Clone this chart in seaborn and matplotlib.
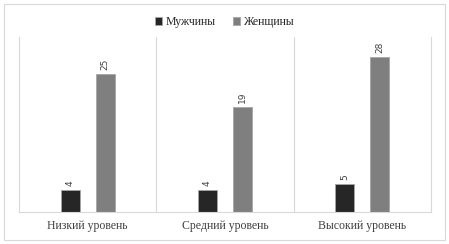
import matplotlib
matplotlib.use("Agg")
import matplotlib.pyplot as plt
import seaborn as sns
import pandas as pd
from matplotlib.patches import Rectangle

categories = ["Низкий уровень", "Средний уровень", "Высокий уровень"]
series_names = ["Мужчины", "Женщины"]
men = [4, 4, 5]
women = [25, 19, 28]

df = pd.DataFrame({
    "cat": categories * 2,
    "sex": [series_names[0]] * 3 + [series_names[1]] * 3,
    "val": men + women,
})

sns.set_style("white")
plt.rcParams["font.family"] = ["Liberation Serif", "DejaVu Serif"]

fig = plt.figure(figsize=(4.49, 2.44), dpi=100)
ax = fig.add_axes([19/449, 1-212/244, (431-19)/449, (212-37)/244])

sns.barplot(data=df, x="cat", y="val", hue="sex", order=categories,
            hue_order=series_names, palette=["#262626", "#7f7f7f"],
            width=0.51, gap=0.45, ax=ax, edgecolor="#a6a6a6", linewidth=0.6,
            errorbar=None, legend=True)

for cont in ax.containers:
    ax.bar_label(cont, rotation=90, padding=3, fontsize=6.5,
                 color="#404040", family="DejaVu Sans")

ax.set_xlim(-0.5, 2.5)
ax.set_ylim(0, 31.7)
ax.set_yticks([])
ax.set_xlabel("")
ax.set_ylabel("")
for b in [0.5, 1.5]:
    ax.axvline(b, color="#d9d9d9", lw=0.8)
for s in ["left", "right"]:
    ax.spines[s].set_color("#d9d9d9")
    ax.spines[s].set_linewidth(0.8)
ax.spines["bottom"].set_color("#d9d9d9")
ax.spines["bottom"].set_linewidth(0.8)
ax.spines["top"].set_visible(False)
ax.tick_params(axis="x", length=0, pad=6, labelsize=8.5, labelcolor="#404040")

h, l = ax.get_legend_handles_labels()
ax.legend(h, l, loc="center", bbox_to_anchor=(0.5, (244-22)/244),
          bbox_transform=fig.transFigure, ncol=2, frameon=False,
          fontsize=8.5, handlelength=0.6, handleheight=0.6,
          handletextpad=0.3, columnspacing=1.5, labelcolor="#262626")

fig.patches.append(Rectangle((4/449, 4/244), 441/449, 236/244,
                             transform=fig.transFigure, fill=False,
                             edgecolor="#d9d9d9", lw=0.8))

fig.savefig("out.png", dpi=100)
